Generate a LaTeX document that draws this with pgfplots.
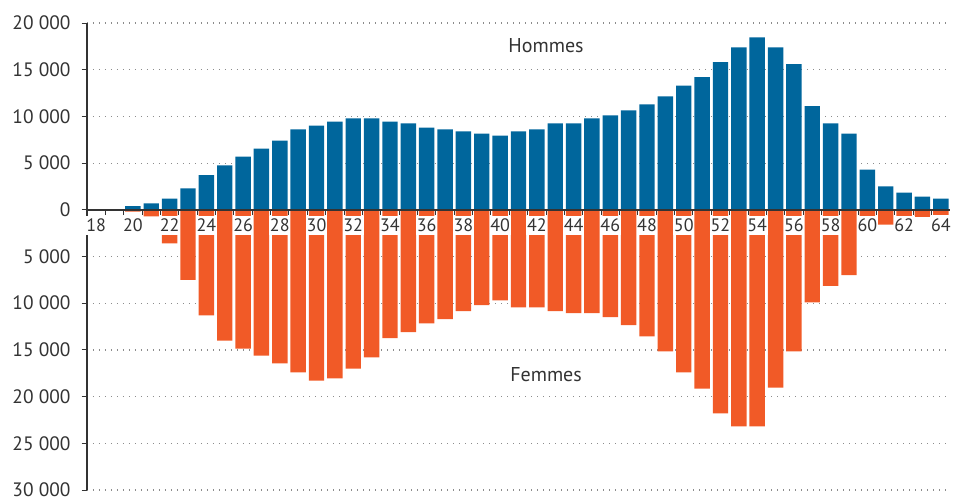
\documentclass[border=0pt]{standalone}
\usepackage{fontspec}
\setmainfont{PT Sans}
\usepackage{pgfplots}
\usepackage{pgfplotstable}
\pgfplotsset{compat=1.18}
\definecolor{hom}{HTML}{00669C}
\definecolor{fem}{HTML}{F15A27}
\definecolor{txt}{HTML}{333333}
\definecolor{gridc}{HTML}{8C8C8C}
\pgfplotsset{
 layers/mylayers/.define layer set={axis background,axis grid,pre main,main,axis ticks,axis lines,axis tick labels,axis descriptions,axis foreground}{
  grid style={/pgfplots/on layer=axis grid},
  tick style={/pgfplots/on layer=axis ticks},
  axis line style={/pgfplots/on layer=axis lines},
  label style={/pgfplots/on layer=axis descriptions},
  legend style={/pgfplots/on layer=axis descriptions},
  title style={/pgfplots/on layer=axis descriptions},
  ticklabel style={/pgfplots/on layer=axis tick labels},
 },
}
\pgfplotstableread{
age hommes femmes
20 400 -200
21 700 -700
22 1200 -3600
23 2300 -7500
24 3700 -11300
25 4750 -14000
26 5700 -14850
27 6550 -15600
28 7400 -16450
29 8600 -17400
30 9000 -18300
31 9450 -18050
32 9800 -17000
33 9800 -15800
34 9450 -13750
35 9250 -13100
36 8800 -12150
37 8600 -11700
38 8400 -10850
39 8150 -10200
40 7950 -9700
41 8400 -10450
42 8600 -10450
43 9250 -10850
44 9250 -11050
45 9800 -11050
46 10100 -11500
47 10650 -12350
48 11300 -13550
49 12150 -15150
50 13300 -17400
51 14200 -19150
52 15800 -21800
53 17400 -23200
54 18450 -23200
55 17400 -19050
56 15600 -15150
57 11100 -9900
58 9250 -8150
59 8150 -7000
60 4300 -1400
61 2500 -1600
62 1850 -1000
63 1400 -750
64 1200 -550
}\data
\begin{document}
\begin{tikzpicture}
\begin{axis}[
  set layers=mylayers,
  width=431.5pt, height=233.5pt, scale only axis,
  xmin=17.5, xmax=64.5, ymin=-30000, ymax=20000,
  axis x line=middle, axis y line=left,
  hide obscured x ticks=false, hide obscured y ticks=false,
  scaled y ticks=false, scaled x ticks=false,
  x axis line style={-, draw=txt, line width=0.9pt},
  y axis line style={-, draw=txt, line width=0.6pt},
  tick align=outside,
  major tick length=2.7pt,
  tick style={draw=txt, line width=0.5pt},
  xtick={18.5,19.5,...,63.5},
  xticklabels={},
  extra x ticks={18,20,...,64},
  extra x tick labels={18,20,22,24,26,28,30,32,34,36,38,40,42,44,46,48,50,52,54,56,58,60,62,64},
  extra x tick style={tick style={draw=none}},
  xticklabel style={font=\fontsize{9}{10}\selectfont, text=txt, fill=white, inner xsep=0.3pt, inner ysep=1.6pt, anchor=north},
  ytick={-30000,-25000,...,20000},
  yticklabels={30 000,25 000,20 000,15 000,10 000,5 000,0,5 000,10 000,15 000,20 000},
  yticklabel style={font=\fontsize{9.7}{10}\selectfont, text=txt, xshift=-2pt},
  ymajorgrids,
  major grid style={draw=gridc, line width=0.6pt, dash pattern=on 0.6pt off 2.4pt},
  ybar, bar width=0.84, bar shift=0pt,
]
\addplot[fill=hom, draw=none] table[x=age, y=hommes] {\data};
\addplot[fill=fem, draw=none] table[x=age, y=femmes] {\data};
\node[font=\fontsize{10}{12}\selectfont, text=txt] at (axis cs:42.5,17550) {Hommes};
\node[font=\fontsize{10}{12}\selectfont, text=txt] at (axis cs:42.5,-17600) {Femmes};
\end{axis}
\pgfresetboundingbox
\path (-43.5pt,-4.5pt) rectangle (433pt,245pt);
\end{tikzpicture}
\end{document}
